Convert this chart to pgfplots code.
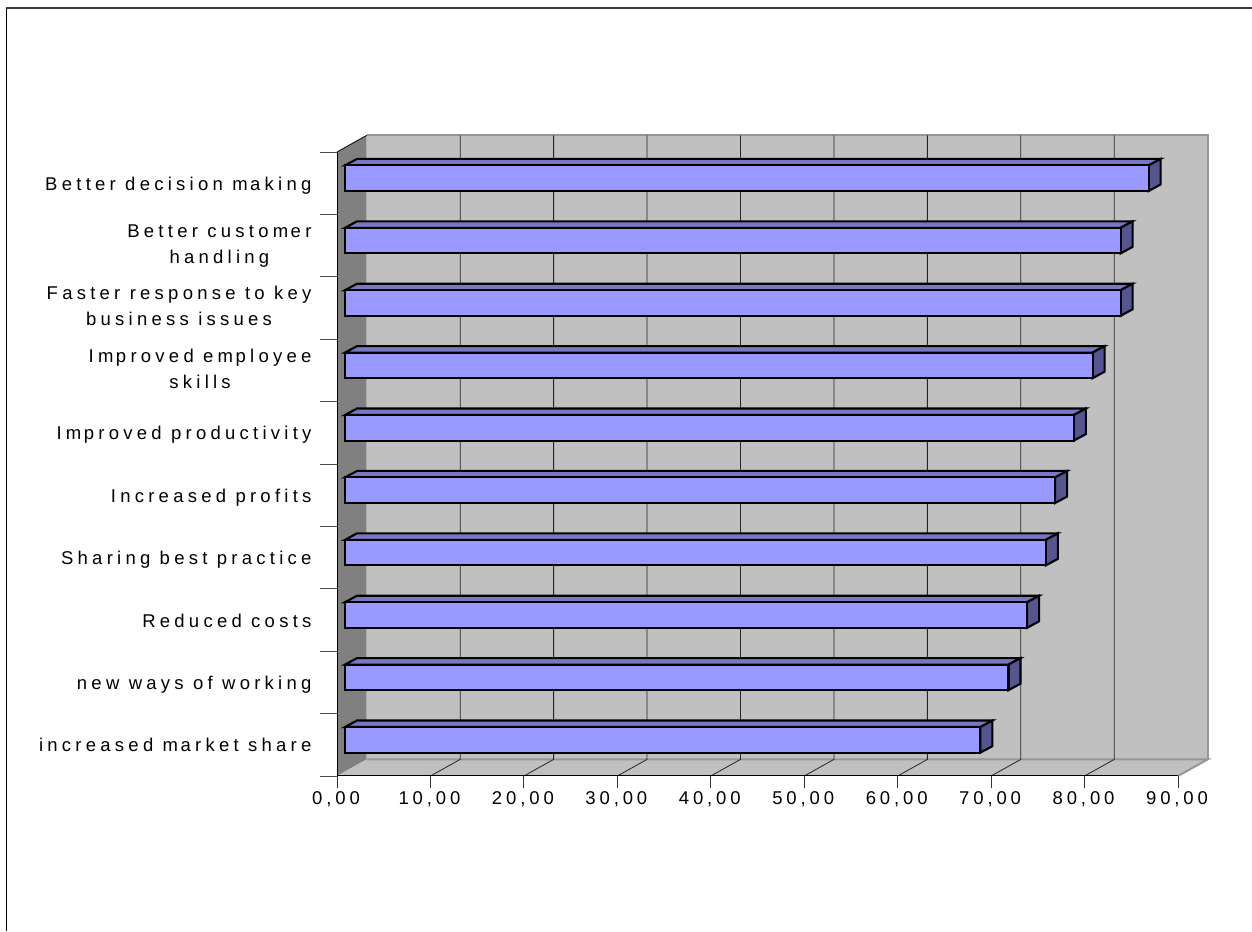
\documentclass[border=0pt]{standalone}
\usepackage{fontspec}
\usepackage{pgfplots}
\pgfplotsset{compat=1.18}
\setmainfont{Liberation Sans}
\newfontfamily\spacedfont[LetterSpace=21]{Liberation Sans}
\newfontfamily\widefont[LetterSpace=23]{Liberation Sans}
\newcommand{\numberfont}{\fontsize{18.5}{26}\spacedfont}
\newcommand{\labelfont}{\fontsize{18.5}{26}\widefont}
% the axis labels open up a little after each m
\newcommand{\mk}{\kern2.5pt }
\definecolor{wallback}{HTML}{C0C0C0}
\definecolor{wallside}{HTML}{808080}
\definecolor{wallrim}{HTML}{969696}
\definecolor{barfront}{HTML}{9999FF}
\definecolor{bartop}{HTML}{7777C4}
\definecolor{barside}{HTML}{555590}

% Top and side faces of one solid bar: {bar centre}{value}
\newcommand{\solidbarfaces}[2]{%
  \pgfmathsetmacro{\xa}{#2+0.856}%
  \pgfmathsetmacro{\xb}{#2+0.856+1.284}%
  \pgfmathsetmacro{\yt}{#1+0.205}%
  \pgfmathsetmacro{\yb}{#1-0.205}%
  \pgfmathsetmacro{\ytt}{#1+0.205+0.104}%
  \pgfmathsetmacro{\ybb}{#1-0.205+0.104}%
  \addplot[draw=black,line width=2.1pt,fill=bartop] coordinates {(0.856,\yt) (\xa,\yt) (\xb,\ytt) (2.14,\ytt)} -- cycle;
  \addplot[draw=black,line width=2.1pt,fill=barside] coordinates {(\xa,\yt) (\xb,\ytt) (\xb,\ybb) (\xa,\yb)} -- cycle;
}

\begin{document}
\begin{tikzpicture}[x=1pt,y=1pt]
\useasboundingbox (0,0) rectangle (1252,931);
% outer chart frame
\draw[color=black!75,line width=2pt] (6,922.5) -- (1252,922.5);
\draw[color=black,line width=1.2pt] (6.5,923) -- (6.5,0);
\begin{axis}[
  at={(337pt,155pt)},anchor=origin,
  scale only axis,width=841pt,height=624pt,
  xmin=0,xmax=90,ymin=0,ymax=10,
  clip=false,
  axis x line*=bottom,axis y line*=left,
  axis line style={black,line width=1pt,-},
  axis on top,
  xtick={0,10,...,90},
  ytick={0.5,1.5,...,9.5},
  minor ytick={0,1,...,10},
  yticklabels={increased m\mk arket share,new ways of working,Reduced costs,Sharing best practice,Increased profits,Im\mk proved productivity,{Im\mk proved em\mk ployee\\skills},{Faster response to key\\business issues},{Better custom\mk er\\handling},Better decision m\mk aking},
  major tick length=12pt,
  minor tick length=17pt,
  tick align=outside,
  major y tick style={draw=none},
  minor tick style={draw=black!70,line width=0.8pt},
  xtick style={draw=black!80,line width=0.8pt},
  x tick label style={font=\numberfont,xshift=-1pt,/pgf/number format/.cd,fixed,fixed zerofill,precision=2,use comma,assume math mode=true},
  y tick label style={font=\labelfont,align=center,xshift=-10pt,yshift=-2pt,execute at begin node=\strut,execute at end node=\strut},
]
% left wall, back wall and floor
\addplot[fill=wallside,draw=none] coordinates {(0,0) (3.18,0.266) (3.18,10.266) (0,10)} -- cycle;
\addplot[fill=wallback,draw=none] coordinates {(3.18,0.266) (93.18,0.266) (93.18,10.266) (3.18,10.266)} -- cycle;
\addplot[fill=wallback,draw=none] coordinates {(0,0) (90,0) (93.18,0.266) (3.18,0.266)} -- cycle;
% rim of the box
\addplot[draw=wallrim,line width=2pt] coordinates {(3.18,10.266) (93.18,10.266) (93.18,0.266)};
\addplot[draw=wallrim,line width=2pt] coordinates {(90,0) (93.18,0.266) (3.18,0.266)};
\addplot[draw=black,line width=0.8pt] coordinates {(0,10) (3.18,10.266)};
% gridlines on the floor and the back wall
\pgfplotsinvokeforeach{10,20,30,40,50,60,70,80}{
  \addplot[draw=black!85,line width=0.8pt] coordinates {(#1,0) (#1+3.18,0.266) (#1+3.18,10.266)};
}
% bars: faces first, front faces on top
\solidbarfaces{0.58}{68}
\solidbarfaces{1.58}{71}
\solidbarfaces{2.58}{73}
\solidbarfaces{3.58}{75}
\solidbarfaces{4.58}{76}
\solidbarfaces{5.58}{78}
\solidbarfaces{6.58}{80}
\solidbarfaces{7.58}{83}
\solidbarfaces{8.58}{83}
\solidbarfaces{9.58}{86}
\addplot[xbar,bar width=0.41,bar shift=0pt,xshift=8pt,draw=black,line width=2.1pt,fill=barfront] coordinates {
  (68,0.58) (71,1.58) (73,2.58) (75,3.58) (76,4.58) (78,5.58) (80,6.58) (83,7.58) (83,8.58) (86,9.58)};
\end{axis}
\end{tikzpicture}
\end{document}
